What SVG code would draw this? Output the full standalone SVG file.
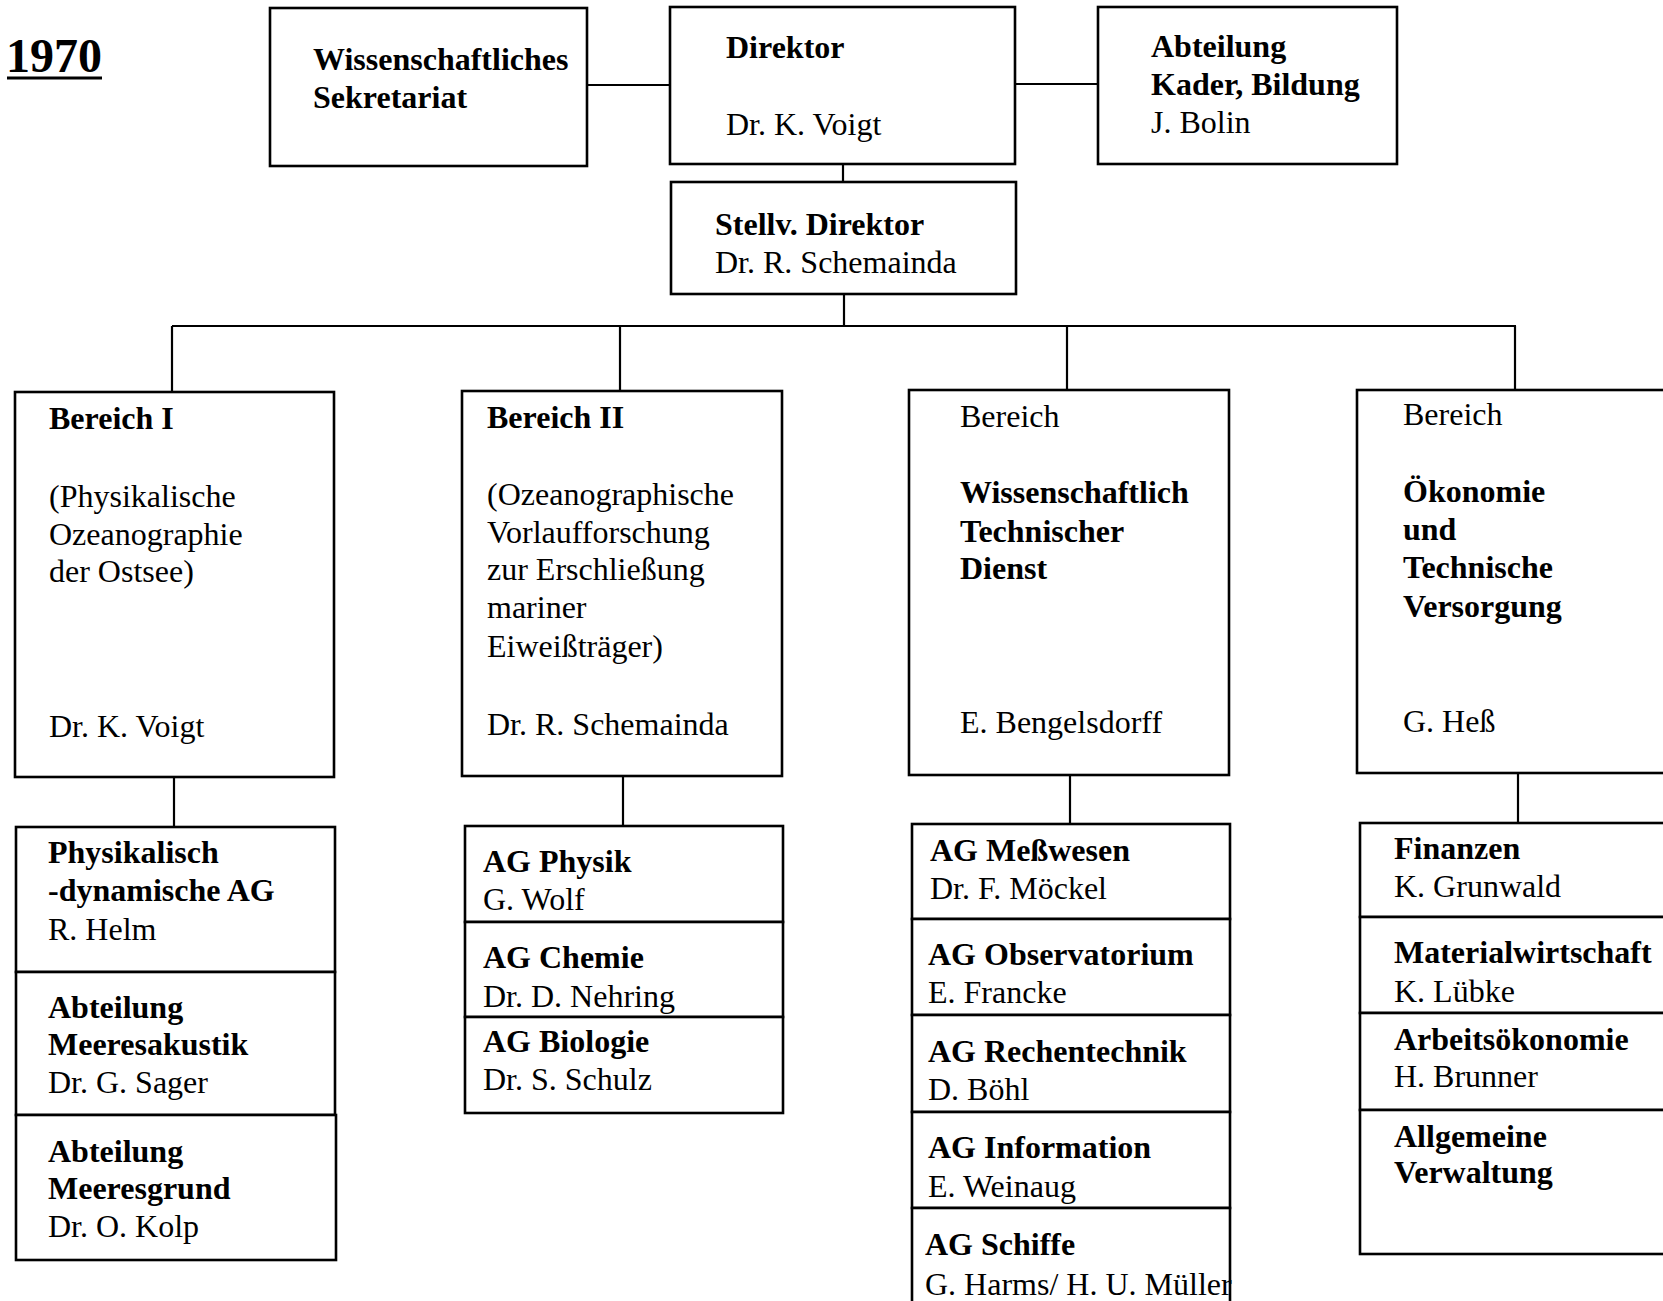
<svg xmlns="http://www.w3.org/2000/svg" width="1663" height="1301" viewBox="0 0 1663 1301">
  <style>
    .box { fill: #ffffff; stroke: #000000; stroke-width: 2.6; }
    .wire { fill: none; stroke: #000000; stroke-width: 2.2; }
    text { font-family: "Liberation Serif", "Times New Roman", serif; font-size: 32px; fill: #000000; }
    .b { font-weight: bold; }
    .year { font-size: 48px; font-weight: bold; }
  </style>
  <rect x="0" y="0" width="1663" height="1301" fill="#ffffff"/>

  <!-- year heading -->
  <g id="year">
    <text class="year" x="6" y="72">1970</text>
    <line x1="7" y1="78" x2="102" y2="78" stroke="#000000" stroke-width="3"/>
  </g>

  <!-- connectors -->
  <g id="connectors" class="wire">
    <line x1="587" y1="85" x2="670" y2="85"/>
    <line x1="1015" y1="84" x2="1098" y2="84"/>
    <line x1="843" y1="164" x2="843" y2="182"/>
    <line x1="844" y1="294" x2="844" y2="326"/>
    <line x1="172" y1="326" x2="1516" y2="326"/>
    <line x1="172" y1="326" x2="172" y2="392"/>
    <line x1="620" y1="326" x2="620" y2="391"/>
    <line x1="1067" y1="326" x2="1067" y2="390"/>
    <line x1="1515" y1="326" x2="1515" y2="390"/>
    <line x1="174" y1="777" x2="174" y2="827"/>
    <line x1="623" y1="776" x2="623" y2="826"/>
    <line x1="1070" y1="775" x2="1070" y2="824"/>
    <line x1="1518" y1="773" x2="1518" y2="823"/>
  </g>

  <!-- top level -->
  <g id="sekretariat">
    <rect class="box" x="270" y="8" width="317" height="158"/>
    <text class="b" x="313" y="70">Wissenschaftliches</text>
    <text class="b" x="313" y="108">Sekretariat</text>
  </g>
  <g id="direktor">
    <rect class="box" x="670" y="7" width="345" height="157"/>
    <text class="b" x="726" y="58">Direktor</text>
    <text x="726" y="135">Dr. K. Voigt</text>
  </g>
  <g id="kader">
    <rect class="box" x="1098" y="7" width="299" height="157"/>
    <text class="b" x="1151" y="57">Abteilung</text>
    <text class="b" x="1151" y="95">Kader, Bildung</text>
    <text x="1151" y="133">J. Bolin</text>
  </g>
  <g id="stellv-direktor">
    <rect class="box" x="671" y="182" width="345" height="112"/>
    <text class="b" x="715" y="235">Stellv. Direktor</text>
    <text x="715" y="273">Dr. R. Schemainda</text>
  </g>

  <!-- Bereiche -->
  <g id="bereich-1">
    <rect class="box" x="15" y="392" width="319" height="385"/>
    <text class="b" x="49" y="429">Bereich I</text>
    <text x="49" y="507">(Physikalische</text>
    <text x="49" y="545">Ozeanographie</text>
    <text x="49" y="582">der Ostsee)</text>
    <text x="49" y="737">Dr. K. Voigt</text>
  </g>
  <g id="bereich-2">
    <rect class="box" x="462" y="391" width="320" height="385"/>
    <text class="b" x="487" y="428">Bereich II</text>
    <text x="487" y="505">(Ozeanographische</text>
    <text x="487" y="543">Vorlaufforschung</text>
    <text x="487" y="580">zur Erschließung</text>
    <text x="487" y="618">mariner</text>
    <text x="487" y="657">Eiweißträger)</text>
    <text x="487" y="735">Dr. R. Schemainda</text>
  </g>
  <g id="bereich-wtd">
    <rect class="box" x="909" y="390" width="320" height="385"/>
    <text x="960" y="427">Bereich</text>
    <text class="b" x="960" y="503">Wissenschaftlich</text>
    <text class="b" x="960" y="542">Technischer</text>
    <text class="b" x="960" y="579">Dienst</text>
    <text x="960" y="733">E. Bengelsdorff</text>
  </g>
  <g id="bereich-oekonomie">
    <rect class="box" x="1357" y="390" width="360" height="383"/>
    <text x="1403" y="425">Bereich</text>
    <text class="b" x="1403" y="502">Ökonomie</text>
    <text class="b" x="1403" y="540">und</text>
    <text class="b" x="1403" y="578">Technische</text>
    <text class="b" x="1403" y="617">Versorgung</text>
    <text x="1403" y="732">G. Heß</text>
  </g>

  <!-- units of Bereich I -->
  <g id="ag-phys-dyn">
    <rect class="box" x="16" y="827" width="319" height="145"/>
    <text class="b" x="48" y="863">Physikalisch</text>
    <text class="b" x="48" y="901">-dynamische AG</text>
    <text x="48" y="940">R. Helm</text>
  </g>
  <g id="abt-akustik">
    <rect class="box" x="16" y="972" width="319" height="143"/>
    <text class="b" x="48" y="1018">Abteilung</text>
    <text class="b" x="48" y="1055">Meeresakustik</text>
    <text x="48" y="1093">Dr. G. Sager</text>
  </g>
  <g id="abt-meeresgrund">
    <rect class="box" x="16" y="1115" width="320" height="145"/>
    <text class="b" x="48" y="1162">Abteilung</text>
    <text class="b" x="48" y="1199">Meeresgrund</text>
    <text x="48" y="1237">Dr. O. Kolp</text>
  </g>

  <!-- units of Bereich II -->
  <g id="ag-physik">
    <rect class="box" x="465" y="826" width="318" height="96"/>
    <text class="b" x="483" y="872">AG Physik</text>
    <text x="483" y="910">G. Wolf</text>
  </g>
  <g id="ag-chemie">
    <rect class="box" x="465" y="922" width="318" height="95"/>
    <text class="b" x="483" y="968">AG Chemie</text>
    <text x="483" y="1007">Dr. D. Nehring</text>
  </g>
  <g id="ag-biologie">
    <rect class="box" x="465" y="1017" width="318" height="96"/>
    <text class="b" x="483" y="1052">AG Biologie</text>
    <text x="483" y="1090">Dr. S. Schulz</text>
  </g>

  <!-- units of the technical service -->
  <g id="ag-messwesen">
    <rect class="box" x="912" y="824" width="318" height="95"/>
    <text class="b" x="930" y="861">AG Meßwesen</text>
    <text x="930" y="899">Dr. F. Möckel</text>
  </g>
  <g id="ag-observatorium">
    <rect class="box" x="912" y="919" width="318" height="96"/>
    <text class="b" x="928" y="965">AG Observatorium</text>
    <text x="928" y="1003">E. Francke</text>
  </g>
  <g id="ag-rechentechnik">
    <rect class="box" x="912" y="1015" width="318" height="97"/>
    <text class="b" x="928" y="1062">AG Rechentechnik</text>
    <text x="928" y="1100">D. Böhl</text>
  </g>
  <g id="ag-information">
    <rect class="box" x="912" y="1112" width="318" height="96"/>
    <text class="b" x="928" y="1158">AG Information</text>
    <text x="928" y="1197">E. Weinaug</text>
  </g>
  <g id="ag-schiffe">
    <rect class="box" x="912" y="1208" width="318" height="120"/>
    <text class="b" x="925" y="1255">AG Schiffe</text>
    <text x="925" y="1295">G. Harms/ H. U. Müller</text>
  </g>

  <!-- units of economy and supply -->
  <g id="finanzen">
    <rect class="box" x="1360" y="823" width="360" height="94"/>
    <text class="b" x="1394" y="859">Finanzen</text>
    <text x="1394" y="897">K. Grunwald</text>
  </g>
  <g id="materialwirtschaft">
    <rect class="box" x="1360" y="917" width="360" height="96"/>
    <text class="b" x="1394" y="963">Materialwirtschaft</text>
    <text x="1394" y="1002">K. Lübke</text>
  </g>
  <g id="arbeitsoekonomie">
    <rect class="box" x="1360" y="1013" width="360" height="97"/>
    <text class="b" x="1394" y="1050">Arbeitsökonomie</text>
    <text x="1394" y="1087">H. Brunner</text>
  </g>
  <g id="verwaltung">
    <rect class="box" x="1360" y="1110" width="360" height="144"/>
    <text class="b" x="1394" y="1147">Allgemeine</text>
    <text class="b" x="1394" y="1183">Verwaltung</text>
  </g>
</svg>
